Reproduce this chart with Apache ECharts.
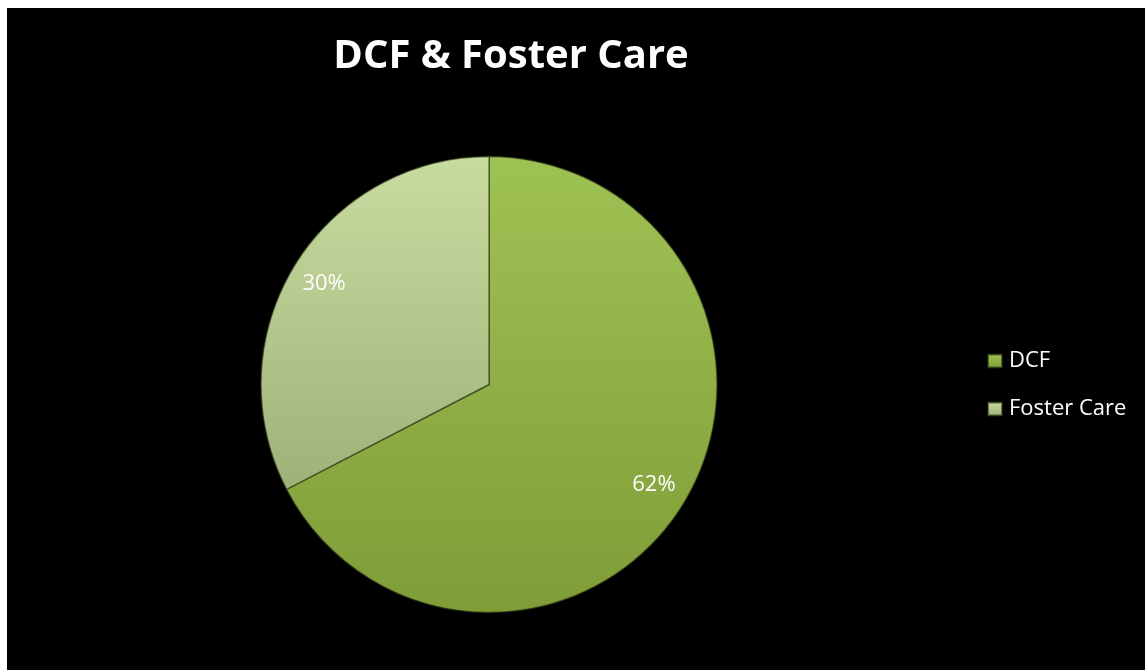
<!DOCTYPE html>
<html>
<head>
<meta charset="utf-8">
<script src="https://cdn.jsdelivr.net/npm/echarts@6/dist/echarts.min.js"></script>
<style>
  html, body { margin: 0; padding: 0; background: #fff; }
  #chart {
    position: absolute;
    left: 7px;
    top: 8px;
    width: 1138px;
    height: 662px;
    background: #000;
  }
</style>
</head>
<body>
<div id="chart"></div>
<script>
// chart data
const categories = ['DCF', 'Foster Care'];
const values = [62, 30];
const chartTitle = 'DCF & Foster Care';

const fills = [
  { top: '#9fc254', bottom: '#7f9d37' },
  { top: '#c8dca0', bottom: '#9fb178' }
];

function grad(c) {
  return new echarts.graphic.LinearGradient(0, 0, 0, 1, [
    { offset: 0, color: c.top },
    { offset: 1, color: c.bottom }
  ]);
}

const pieData = categories.map((name, i) => ({
  name: name,
  value: values[i],
  itemStyle: { color: grad(fills[i]) }
}));

const labelData = categories.map((name, i) => ({ name: name, value: values[i] }));

var myChart = echarts.init(document.getElementById('chart'));
myChart.setOption({
  backgroundColor: '#000',
  animation: false,
  title: {
    text: chartTitle,
    left: 499,
    top: 24,
    textAlign: 'center',
    textStyle: {
      color: '#fff',
      fontFamily: 'Open Sans',
      fontWeight: 'bold',
      fontSize: 40
    }
  },
  legend: {
    orient: 'vertical',
    left: 975,
    top: 337,
    itemWidth: 14,
    itemHeight: 13,
    itemGap: 26,
    icon: 'rect',
    data: categories,
    textStyle: {
      color: '#fff',
      fontFamily: 'Open Sans',
      fontSize: 22,
      lineHeight: 22,
      padding: [0, 0, 0, 2]
    }
  },
  series: [
    {
      name: 'main',
      type: 'pie',
      center: [482, 376.5],
      radius: [0, 228],
      startAngle: 90,
      clockwise: true,
      silent: true,
      label: { show: false },
      labelLine: { show: false },
      itemStyle: {
        borderColor: 'rgba(40,50,20,0.6)',
        borderWidth: 1.5
      },
      data: pieData
    },
    {
      // transparent ring used only to place the percent labels
      name: 'labels',
      type: 'pie',
      center: [482, 376.5],
      radius: [152, 228],
      startAngle: 90,
      clockwise: true,
      silent: true,
      itemStyle: { color: 'rgba(0,0,0,0)' },
      labelLine: { show: false },
      label: {
        show: true,
        position: 'inside',
        formatter: '{c}%',
        color: '#fff',
        fontFamily: 'Open Sans',
        fontSize: 22
      },
      data: labelData
    }
  ]
});
</script>
</body>
</html>
